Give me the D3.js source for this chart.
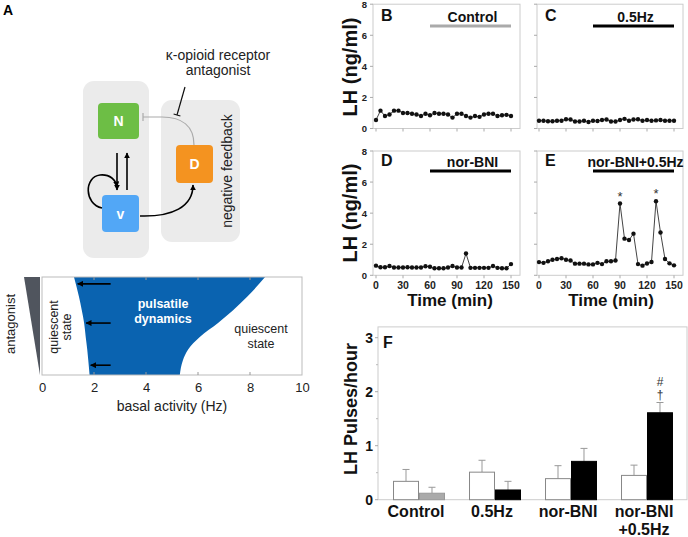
<!DOCTYPE html>
<html><head><meta charset="utf-8">
<script src="https://cdn.jsdelivr.net/npm/d3@7"></script>
<style>body{margin:0;background:#fff}svg{display:block;font-family:"Liberation Sans",Arial,Helvetica,sans-serif}</style>
</head><body><svg id="c" width="688" height="537"></svg>
<script>
// ---------------- DATA ----------------
const times = [0,5,10,15,20,25,30,35,40,45,50,55,60,65,70,75,80,85,90,95,100,105,110,115,120,125,130,135,140,145,150];
const lhControl = [0.55,1.15,0.8,0.9,1.15,1.15,1.0,1.0,0.95,0.9,0.8,0.95,0.85,1.0,0.95,0.95,0.9,0.7,0.95,0.95,0.8,0.7,0.8,0.75,0.9,0.95,0.95,0.8,0.85,0.88,0.8];
const lhPulse = [0.5,0.5,0.47,0.47,0.5,0.5,0.6,0.58,0.45,0.45,0.5,0.42,0.5,0.48,0.55,0.58,0.45,0.45,0.55,0.62,0.5,0.58,0.6,0.5,0.55,0.5,0.52,0.55,0.5,0.5,0.5];
const lhNorBNI = [0.62,0.52,0.52,0.6,0.5,0.5,0.5,0.52,0.5,0.5,0.5,0.58,0.55,0.45,0.45,0.45,0.5,0.6,0.5,0.5,1.4,0.48,0.48,0.48,0.48,0.48,0.6,0.48,0.45,0.45,0.72];
const lhNorBNIPulse = [0.85,0.8,0.9,1.0,1.05,1.1,1.0,0.95,0.75,0.75,0.75,0.7,0.7,0.8,0.72,0.9,0.9,0.95,4.62,2.36,2.27,2.68,0.72,0.62,0.76,0.86,4.77,2.75,1.05,0.77,0.64];
const lhTicks = [0,2,4,6,8];
const timeTicks = [0,30,60,90,120,150];
const treatStart = 60, treatEnd = 150;
const peakTimes = [90,130];

const groups = ["Control","0.5Hz","nor-BNI","nor-BNI +0.5Hz"];
const pulsesBefore = [0.34,0.51,0.39,0.45];
const pulsesBeforeErr = [0.22,0.22,0.24,0.19];
const pulsesAfter = [0.12,0.18,0.71,1.61];
const pulsesAfterErr = [0.11,0.16,0.24,0.19];
const pulseTicks = [0,1,2,3];
const pulseMinorTicks = [0.5,1.5,2.5];

// phase diagram (antagonist level 0 = bottom, 1 = top; basal activity in Hz)
const antagonistLevels = [0,0.15,0.26,0.39,0.53,0.66,0.8,1];
const leftBoundaryHz  = [1.83,1.78,1.74,1.68,1.62,1.53,1.42,1.23];
const rightBoundaryHz = [5.3,5.42,5.62,6.08,6.77,7.35,7.9,8.58];
const arrowLevels = [0.93,0.53,0.1];
const arrowStartHz = 2.64;
const hzTicks = [0,2,4,6,8,10];

// ---------------- DRAW ----------------
const svg = d3.select("#c");
const defs = svg.append("defs");
defs.append("marker").attr("id","ah").attr("viewBox","0 0 10 10").attr("refX",9).attr("refY",5)
  .attr("markerWidth",6).attr("markerHeight",6).attr("orient","auto-start-reverse").attr("markerUnits","userSpaceOnUse")
  .append("path").attr("d","M0,0 L10,5 L0,10 z").attr("fill","#000");

// ===== Panel A =====
svg.append("text").attr("x",3).attr("y",15).attr("font-size",14).attr("font-weight","bold").text("A");
svg.append("text").attr("x",218).attr("y",60).attr("text-anchor","middle").attr("font-size",14).attr("fill","#222").text("κ-opioid receptor");
svg.append("text").attr("x",218).attr("y",75).attr("text-anchor","middle").attr("font-size",14).attr("fill","#222").text("antagonist");

svg.append("rect").attr("x",83).attr("y",81).attr("width",66).attr("height",177).attr("rx",11).attr("fill","#ebebeb");
svg.append("rect").attr("x",161).attr("y",100).attr("width",79).attr("height",142).attr("rx",11).attr("fill","#ebebeb");
svg.append("text").attr("transform","translate(232,171) rotate(-90)").attr("text-anchor","middle")
  .attr("font-size",14).attr("fill","#222").text("negative feedback");

const nodes = [
  {k:"N", x:98, y:103, w:41, h:36, c:"#6dbe45"},
  {k:"D", x:176, y:145, w:37, h:38, c:"#f49320"},
  {k:"v", x:102, y:195, w:37, h:37, c:"#52a7f6"}
];
svg.append("path").attr("d","M194,145 C194,126 182,117 162,117 L143,117").attr("fill","none").attr("stroke","#aaa").attr("stroke-width",1.2);
svg.append("line").attr("x1",143).attr("x2",143).attr("y1",113).attr("y2",121).attr("stroke","#aaa").attr("stroke-width",1.2);
svg.append("line").attr("x1",185).attr("y1",87).attr("x2",177).attr("y2",115).attr("stroke","#111").attr("stroke-width",1.2);
svg.append("line").attr("x1",173.6).attr("y1",114).attr("x2",180.4).attr("y2",116).attr("stroke","#111").attr("stroke-width",1.2);

nodes.forEach(n=>{
  svg.append("rect").attr("x",n.x).attr("y",n.y).attr("width",n.w).attr("height",n.h).attr("rx",4).attr("fill",n.c);
  svg.append("text").attr("x",n.x+n.w/2).attr("y",n.y+n.h/2+5).attr("text-anchor","middle")
    .attr("font-size",14).attr("font-weight","bold").attr("fill","#fff").text(n.k);
});
const arr = (d)=>svg.append("path").attr("d",d).attr("fill","none").attr("stroke","#000").attr("stroke-width",1.6).attr("marker-end","url(#ah)");
arr("M117,153 L117,190");
arr("M127,190 L127,153");
arr("M102,208 C84,204 84,177 100,175 C110,174 116,180 117,187");
arr("M140,216 C172,217 193,207 193,185");

// phase plot
const px = d3.scaleLinear([0,10],[42,302]);
const py = d3.scaleLinear([0,1],[375,277]);
svg.append("path").attr("d",`M40,${py(1)} L24,${py(1)} L40,${py(0)} Z`).attr("fill","#50555e");
svg.append("text").attr("transform",`translate(15,${py(0.5)-2}) rotate(-90)`).attr("text-anchor","middle").attr("font-size",13).attr("fill","#222").text("antagonist");

const area = d3.area().curve(d3.curveMonotoneY)
  .y((d,i)=>py(antagonistLevels[i])).x0((d,i)=>px(leftBoundaryHz[i])).x1((d,i)=>px(rightBoundaryHz[i]));
svg.append("path").attr("d",area(antagonistLevels)).attr("fill","#0a63b0");
svg.append("rect").attr("x",px(0)).attr("y",py(1)).attr("width",px(10)-px(0)).attr("height",py(0)-py(1))
  .attr("fill","none").attr("stroke","#bbb").attr("stroke-width",1);
const axB = svg.append("g").attr("transform",`translate(0,${py(0)})`).call(d3.axisBottom(px).tickValues(hzTicks).tickSize(0).tickPadding(8));
axB.select(".domain").remove();
axB.selectAll("text").attr("font-size",13).attr("fill","#222").attr("font-family","Liberation Sans, Arial");
hzTicks.slice(1,-1).forEach(t=>{
  svg.append("line").attr("x1",px(t)).attr("x2",px(t)).attr("y1",py(1)).attr("y2",py(1)+3).attr("stroke","#999");
  svg.append("line").attr("x1",px(t)).attr("x2",px(t)).attr("y1",py(0)).attr("y2",py(0)-3).attr("stroke","#999");
});
svg.append("text").attr("x",172).attr("y",py(0)+36).attr("text-anchor","middle").attr("font-size",14).attr("fill","#222").text("basal activity (Hz)");
const leftAt = d3.scaleLinear(antagonistLevels,leftBoundaryHz);
arrowLevels.forEach(l=>{
  svg.append("line").attr("x1",px(arrowStartHz)).attr("x2",px(leftAt(l))+2).attr("y1",py(l)).attr("y2",py(l))
    .attr("stroke","#000").attr("stroke-width",1.6).attr("marker-end","url(#ah)");
});
svg.append("text").attr("x",163).attr("y",308).attr("text-anchor","middle").attr("font-size",12.5).attr("font-weight","bold").attr("fill","#fff").text("pulsatile");
svg.append("text").attr("x",163).attr("y",323).attr("text-anchor","middle").attr("font-size",12.5).attr("font-weight","bold").attr("fill","#fff").text("dynamics");
svg.append("text").attr("x",261).attr("y",333).attr("text-anchor","middle").attr("font-size",12.5).attr("fill","#222").text("quiescent");
svg.append("text").attr("x",261).attr("y",348).attr("text-anchor","middle").attr("font-size",12.5).attr("fill","#222").text("state");
svg.append("text").attr("transform",`translate(58,327) rotate(-90)`).attr("text-anchor","middle").attr("font-size",12.5).attr("fill","#222").text("quiescent");
svg.append("text").attr("transform",`translate(71,327) rotate(-90)`).attr("text-anchor","middle").attr("font-size",12.5).attr("fill","#222").text("state");

// ===== Panels B-E =====
const panels = [
  {L:"B", data:lhControl, lab:"Control", bar:"#aaa", xr:[376,511], yr:[128.5,4.2], fl:373, fr:520, yl:true, xl:false, ast:false, labY:22},
  {L:"C", data:lhPulse, lab:"0.5Hz", bar:"#000", xr:[539,674], yr:[128.5,4.2], fl:537, fr:683, yl:false, xl:false, ast:false, labY:22},
  {L:"D", data:lhNorBNI, lab:"nor-BNI", bar:"#000", xr:[376,511], yr:[275.3,151], fl:373, fr:520, yl:true, xl:true, ast:false, labY:167},
  {L:"E", data:lhNorBNIPulse, lab:"nor-BNI+0.5Hz", bar:"#000", xr:[539,674], yr:[275.3,151], fl:537, fr:683, yl:false, xl:true, ast:true, labY:167}
];
panels.forEach(p=>{
  const x = d3.scaleLinear([0,150],p.xr);
  const y = d3.scaleLinear([0,8],p.yr);
  const g = svg.append("g");
  g.append("rect").attr("x",p.fl).attr("y",y(8)).attr("width",p.fr-p.fl).attr("height",y(0)-y(8))
    .attr("fill","none").attr("stroke","#ccc").attr("stroke-width",1);
  lhTicks.forEach(t=>{
    g.append("line").attr("x1",p.fl-3).attr("x2",p.fl).attr("y1",y(t)).attr("y2",y(t)).attr("stroke","#aaa");
    if(p.yl) g.append("text").attr("x",p.fl-6).attr("y",y(t)+3.5).attr("text-anchor","end").attr("font-size",9.5).attr("font-weight","bold").attr("fill","#222").text(t);
  });
  timeTicks.forEach(t=>{
    g.append("line").attr("x1",x(t)).attr("x2",x(t)).attr("y1",y(0)).attr("y2",y(0)+3).attr("stroke","#aaa");
    if(p.xl) g.append("text").attr("x",x(t)).attr("y",y(0)+14).attr("text-anchor","middle").attr("font-size",10.5).attr("font-weight","bold").attr("fill","#222").text(t);
  });
  const line = d3.line().x((d,i)=>x(times[i])).y(d=>y(d));
  g.append("path").attr("d",line(p.data)).attr("fill","none").attr("stroke","#444").attr("stroke-width",1);
  g.selectAll("circle").data(p.data).join("circle").attr("cx",(d,i)=>x(times[i])).attr("cy",d=>y(d)).attr("r",2.2).attr("fill","#111");
  if(p.ast) peakTimes.forEach(t=>{
    const v = p.data[times.indexOf(t)];
    g.append("text").attr("x",x(t)).attr("y",y(v)-3).attr("text-anchor","middle").attr("font-size",13).attr("fill","#333").text("*");
  });
  g.append("line").attr("x1",x(treatStart)).attr("x2",x(treatEnd)).attr("y1",p.labY+4).attr("y2",p.labY+4).attr("stroke",p.bar).attr("stroke-width",3);
  g.append("text").attr("x",(x(treatStart)+x(treatEnd))/2+2).attr("y",p.labY).attr("text-anchor","middle").attr("font-size",14).attr("font-weight","bold").attr("fill","#111").text(p.lab);
  g.append("text").attr("x",p.fl+8).attr("y",p.labY-1).attr("font-size",16).attr("font-weight","bold").attr("fill","#111").text(p.L);
});
svg.append("text").attr("transform","translate(357,67) rotate(-90)").attr("text-anchor","middle").attr("font-size",20).attr("font-weight","bold").attr("fill","#111").text("LH (ng/ml)");
svg.append("text").attr("transform","translate(357,213) rotate(-90)").attr("text-anchor","middle").attr("font-size",20).attr("font-weight","bold").attr("fill","#111").text("LH (ng/ml)");
svg.append("text").attr("x",450).attr("y",306).attr("text-anchor","middle").attr("font-size",17).attr("font-weight","bold").attr("fill","#111").text("Time (min)");
svg.append("text").attr("x",611).attr("y",306).attr("text-anchor","middle").attr("font-size",17).attr("font-weight","bold").attr("fill","#111").text("Time (min)");

// ===== Panel F =====
const yF = d3.scaleLinear([0,3],[499.7,337.7]);
const xF = d3.scaleBand(groups,[381,685]).paddingInner(0.316).paddingOuter(0.158);
const xSub = d3.scaleBand(["before","after"],[0,xF.bandwidth()]);
const fl = 378, fr = 687;
svg.append("rect").attr("x",fl).attr("y",yF(3.2)).attr("width",fr-fl).attr("height",yF(0)-yF(3.2)).attr("fill","none").attr("stroke","#ccc");
pulseTicks.forEach(t=>{
  svg.append("line").attr("x1",fl-3).attr("x2",fl).attr("y1",yF(t)).attr("y2",yF(t)).attr("stroke","#aaa");
  svg.append("text").attr("x",fl-5).attr("y",yF(t)+5).attr("text-anchor","end").attr("font-size",14).attr("font-weight","bold").attr("fill","#111").text(t);
});
pulseMinorTicks.forEach(t=>svg.append("line").attr("x1",fl-2).attr("x2",fl).attr("y1",yF(t)).attr("y2",yF(t)).attr("stroke","#bbb"));
const barFill = ["#aaa","#000","#000","#000"];
groups.forEach((gname,i)=>{
  const gx = xF(gname);
  const series = [
    {k:"before", v:pulsesBefore[i], e:pulsesBeforeErr[i], fill:"#fff", stroke:"#888"},
    {k:"after", v:pulsesAfter[i], e:pulsesAfterErr[i], fill:barFill[i], stroke:i===0?"#999":"#000"}
  ];
  series.forEach(s=>{
    const bx = gx + xSub(s.k), bw = xSub.bandwidth();
    const cx = bx + bw/2;
    svg.append("line").attr("x1",cx).attr("x2",cx).attr("y1",yF(s.v)).attr("y2",yF(s.v+s.e)).attr("stroke","#999").attr("stroke-width",1);
    svg.append("line").attr("x1",cx-3.5).attr("x2",cx+3.5).attr("y1",yF(s.v+s.e)).attr("y2",yF(s.v+s.e)).attr("stroke","#999").attr("stroke-width",1);
    svg.append("rect").attr("x",bx+0.5).attr("y",yF(s.v)).attr("width",bw-1).attr("height",yF(0)-yF(s.v))
      .attr("fill",s.fill).attr("stroke",s.stroke).attr("stroke-width",1);
  });
  gname.split(" ").forEach((ln,j)=>{
    svg.append("text").attr("x",gx+xF.bandwidth()/2-3).attr("y",517+j*18).attr("text-anchor","middle")
      .attr("font-size",16).attr("font-weight","bold").attr("fill","#111").text(ln);
  });
});
const lastG = groups[3];
const sigX = xF(lastG)+xSub("after")+xSub.bandwidth()/2;
svg.append("text").attr("x",sigX).attr("y",386).attr("text-anchor","middle").attr("font-size",12).attr("fill","#333").text("#");
svg.append("text").attr("x",sigX).attr("y",399).attr("text-anchor","middle").attr("font-size",12).attr("fill","#333").text("†");
svg.append("text").attr("x",383).attr("y",348).attr("font-size",16).attr("font-weight","bold").attr("fill","#111").text("F");
svg.append("text").attr("transform","translate(357,409) rotate(-90)").attr("text-anchor","middle").attr("font-size",18).attr("font-weight","bold").attr("fill","#111").text("LH Pulses/hour");
</script></body></html>
